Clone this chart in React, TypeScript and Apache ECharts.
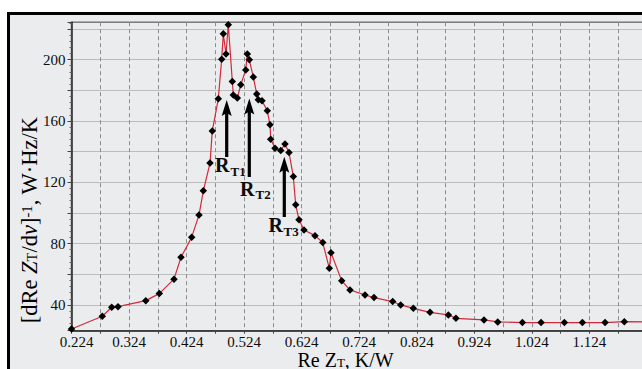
import React, { useEffect, useRef } from 'react';
import * as echarts from 'echarts';

// x-axis origin (first tick) in K/W
const X0 = 0.224;

// Re Z_T, K/W
const reZ = [
  0.224, 0.2775, 0.2939, 0.3048, 0.353, 0.3766, 0.4021, 0.4143, 0.4329, 0.4456,
  0.4531, 0.4647, 0.4687, 0.4791, 0.485, 0.4878, 0.4925, 0.4965, 0.5035, 0.5052,
  0.5122, 0.5181, 0.5268, 0.5295, 0.533, 0.54, 0.5459, 0.5487, 0.5551, 0.5643,
  0.569, 0.5702, 0.5777, 0.5876, 0.595, 0.602, 0.6095, 0.6136, 0.6194, 0.6281,
  0.6472, 0.6606, 0.672, 0.675, 0.6936, 0.708, 0.7341, 0.7497, 0.7822, 0.7961,
  0.818, 0.847, 0.8789, 0.8921, 0.9409, 0.9647, 1.0075, 1.04, 1.0805, 1.1118,
  1.1512, 1.1847, 1.26,
];

// [dRe Z_T/dν]^-1, W·Hz/K
const invDeriv = [
  24.3, 32.6, 38.5, 38.9, 42.8, 47.4, 56.8, 71.1, 84.2, 98.7,
  114.4, 132.5, 153.5, 174.4, 200.3, 216.8, 203.6, 222.7, 185.7, 177.0,
  174.9, 183.6, 193.3, 203.6, 199.9, 188.6, 177.5, 173.8, 173.1, 166.6,
  157.5, 148.1, 142.2, 140.7, 144.9, 139.4, 123.7, 105.3, 95.5, 88.9,
  85.2, 80.7, 63.9, 74.1, 55.7, 49.8, 46.5, 44.8, 42.2, 40.0,
  37.8, 35.2, 33.5, 31.3, 30.2, 28.9, 28.5, 28.5, 28.5, 28.5,
  28.5, 29.1, 28.8,
];

const xTickLabels = ['0.224', '0.324', '0.424', '0.524', '0.624', '0.724', '0.824', '0.924', '1.024', '1.124'];
const yTickLabels = [40, 80, 120, 160, 200];
const peakNames = ['T1', 'T2', 'T3'];

const SERIF = 'Liberation Serif';
const INK = '#0d0d0d';

export default function App() {
  const ref = useRef<HTMLDivElement>(null);

  useEffect(() => {
    if (!ref.current) return;
    const chart = echarts.init(ref.current, null, { renderer: 'svg' });

    const seriesData = reZ.map((x, i) => [x - X0, invDeriv[i]]);

    // arrows (pixel layout): x, tipY, bottomY
    const arrows = [
      [226.7, 100, 157],
      [249.3, 98.5, 177],
      [284.3, 156.7, 217],
    ];
    // label positions: R left, R centre y, sub left, sub centre y
    const labelPos = [
      [215, 164.5, 230.5, 171],
      [240, 188.5, 255.5, 194.5],
      [268.5, 224.5, 283.5, 231],
    ];

    const graphics: any[] = [];
    arrows.forEach(([x, tip, bot]) => {
      graphics.push({
        type: 'rect',
        shape: { x: x - 1.6, y: tip + 12, width: 3.2, height: bot - tip - 12 },
        style: { fill: '#000' },
        z: 100,
      });
      graphics.push({
        type: 'polygon',
        shape: { points: [[x, tip], [x - 5, tip + 16], [x, tip + 13], [x + 5, tip + 16]] },
        style: { fill: '#000' },
        z: 100,
      });
    });
    labelPos.forEach(([rx, ry, sx, sy], i) => {
      graphics.push({
        type: 'text',
        x: rx,
        y: ry,
        style: { text: 'R', fontFamily: SERIF, fontSize: 20, fontWeight: 'bold', fill: INK, align: 'left', verticalAlign: 'middle' },
        z: 100,
      });
      graphics.push({
        type: 'text',
        x: sx,
        y: sy,
        style: { text: peakNames[i], fontFamily: SERIF, fontSize: 13, fontWeight: 'bold', fill: INK, align: 'left', verticalAlign: 'middle' },
        z: 100,
      });
    });

    const makeRich = (size: number, subSize: number) => {
      const base = { fontFamily: SERIF, fontSize: size, lineHeight: Math.round(size * 0.9), color: INK };
      return {
        n: base,
        i: { ...base, fontStyle: 'italic' },
        sub: { fontFamily: SERIF, fontSize: subSize, lineHeight: Math.round(subSize * 0.75), color: INK, verticalAlign: 'bottom' },
        sup: { fontFamily: SERIF, fontSize: subSize, lineHeight: Math.round(subSize * 0.75), color: INK, verticalAlign: 'top' },
      };
    };

    // y-axis title
    graphics.push({
      type: 'text',
      x: 29,
      y: 220,
      rotation: Math.PI / 2,
      style: {
        text: '{n|[dRe }{i|Z}{sub|T}{n|/d}{i|ν}{n|]}{sup|-1}{n|, W·Hz/K}',
        rich: makeRich(22.5, 14.5),
        align: 'center',
        verticalAlign: 'middle',
      },
      z: 100,
    });
    // x-axis title
    graphics.push({
      type: 'text',
      x: 297.5,
      y: 359.5,
      style: {
        text: '{n|Re Z}{sub|T}{n|, K/W}',
        rich: makeRich(20, 13),
        align: 'left',
        verticalAlign: 'middle',
      },
      z: 100,
    });

    const option: any = {
      animation: false,
      backgroundColor: 'transparent',
      grid: {
        left: 71.5,
        top: 22.2,
        width: 604.2,
        height: 308.5,
        show: true,
        borderColor: '#6e6e6e',
        borderWidth: 1.5,
        backgroundColor: 'transparent',
        containLabel: false,
        outerBoundsMode: 'none',
      },
      xAxis: {
        type: 'value',
        min: 0,
        max: 1.05,
        interval: 0.05,
        axisLine: { show: true, lineStyle: { color: '#2a2a2a', width: 1.5 } },
        axisTick: { show: true, length: 3, lineStyle: { color: '#444' } },
        splitLine: { show: true, lineStyle: { color: '#8c8c8c', width: 1, type: [4, 3] } },
        axisLabel: {
          margin: 4,
          lineHeight: 14,
          fontFamily: SERIF,
          fontSize: 15,
          color: INK,
          formatter: (v: number) => {
            const i = Math.round(v / 0.05);
            if (i % 2 !== 0) return '';
            const s = xTickLabels[i / 2];
            if (!s) return '';
            return i === 0 ? '{first|' + s + '}' : s;
          },
          rich: {
            first: { fontFamily: SERIF, fontSize: 15, lineHeight: 14, color: INK, padding: [0, 0, 0, 10] },
          },
        },
      },
      yAxis: {
        type: 'value',
        min: 23.2,
        max: 224.4,
        splitNumber: 10,
        axisLine: { show: true, lineStyle: { color: '#2a2a2a', width: 1.5 } },
        axisTick: { show: true, length: 4, lineStyle: { color: '#444' } },
        minorTick: { show: true, splitNumber: 5, length: 2, lineStyle: { color: '#666' } },
        splitLine: { show: true, lineStyle: { color: '#8c8c8c', width: 1, type: [1, 1] } },
        axisLabel: {
          margin: 6,
          fontFamily: SERIF,
          fontSize: 15,
          color: INK,
          formatter: (v: number) => {
            const t = yTickLabels.find((k) => Math.abs(k - v) < 1e-6);
            return t !== undefined ? String(t) : '';
          },
        },
      },
      series: [
        {
          type: 'line',
          data: seriesData,
          symbol: 'diamond',
          symbolSize: 7.5,
          itemStyle: { color: '#000' },
          lineStyle: { color: '#d22a3a', width: 1.2 },
          z: 5,
        },
      ],
      graphic: graphics,
    };

    chart.setOption(option);
    return () => chart.dispose();
  }, []);

  return (
    <>
      <div
        style={{
          position: 'fixed',
          left: 7,
          top: 12,
          width: 720,
          height: 420,
          borderLeft: '3px solid #000',
          borderTop: '3px solid #000',
          background: '#ebecee',
        }}
      />
      <div ref={ref} style={{ position: 'fixed', left: 0, top: 0, width: 700, height: 400 }} />
    </>
  );
}
